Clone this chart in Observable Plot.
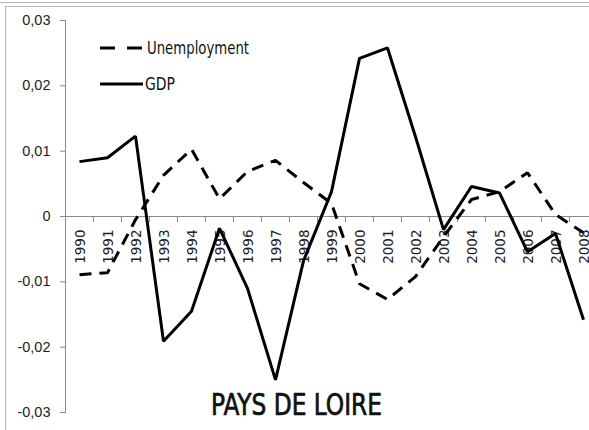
<!DOCTYPE html>
<html>
<head>
<meta charset="utf-8">
<script src="https://cdn.jsdelivr.net/npm/d3@7"></script>
<script src="https://cdn.jsdelivr.net/npm/@observablehq/plot@0.6"></script>
<style>
  html, body { margin: 0; padding: 0; background: #fff; overflow: hidden; }
  #wrap { position: relative; width: 589px; height: 430px; overflow: hidden; background: #fff; }
  #wrap svg.plotsvg { position: absolute; left: 0; top: 0; }
  .bline { position: absolute; background: #b4b4b4; }
  #legend { position: absolute; left: 0; top: 0; }
</style>
</head>
<body>
<div id="wrap"></div>
<script>
const years = ["1990","1991","1992","1993","1994","1995","1996","1997","1998","1999",
               "2000","2001","2002","2003","2004","2005","2006","2007","2008"];
const unemployment = [-0.0089, -0.0086, -0.0005, 0.0063, 0.0103, 0.0027, 0.0069, 0.0086, 0.0052, 0.0020,
                      -0.0103, -0.0127, -0.0092, -0.0031, 0.0026, 0.0038, 0.0067, 0.0003, -0.0025];
const gdp = [0.0084, 0.0090, 0.0123, -0.0191, -0.0145, -0.0018, -0.0110, -0.0250, -0.0068, 0.0038,
             0.0242, 0.0258, 0.0122, -0.0020, 0.0046, 0.0036, -0.0054, -0.0026, -0.0158];
const yTicks = [-0.03, -0.02, -0.01, 0, 0.01, 0.02, 0.03];
const yTickLabels = ["-0,03", "-0,02", "-0,01", "0", "0,01", "0,02", "0,03"];
const title = "PAYS DE LOIRE";
const seriesNames = ["Unemployment", "GDP"];

const uData = years.map((y, i) => ({year: y, value: unemployment[i]}));
const gData = years.map((y, i) => ({year: y, value: gdp[i]}));

const W = 589, H = 430;
const xRange = [65, 597];
const yRange = [412, 20];
const step = (xRange[1] - xRange[0]) / years.length;
const pxPerUnit = (yRange[0] - yRange[1]) / (yTicks[yTicks.length - 1] - yTicks[0]);
const tickLen = 6 / pxPerUnit;
const axisGray = "#8a8a8a";
const narrow = "'Liberation Sans Narrow', 'DejaVu Sans Condensed', 'Arial Narrow', sans-serif";

const chart = Plot.plot({
  width: W,
  height: H,
  marginLeft: 65,
  marginRight: 0,
  marginTop: 20,
  marginBottom: 18,
  style: {fontFamily: "'Liberation Sans', Arial, sans-serif", fontSize: "14.5px", color: "#222", background: "transparent"},
  x: {type: "point", domain: years, range: xRange, padding: 0.5, axis: null},
  y: {domain: [yTicks[0], yTicks[yTicks.length - 1]], range: yRange, axis: null},
  marks: [
    Plot.frame({anchor: "left", stroke: axisGray}),
    Plot.ruleY([0], {stroke: axisGray}),
    Plot.ruleX(years, {x: d => d, y1: 0, y2: -tickLen, dx: -step / 2, stroke: axisGray}),
    Plot.axisY({
      ticks: yTicks,
      tickFormat: d => yTickLabels[yTicks.indexOf(d)],
      tickSize: 5,
      tickPadding: 10,
      label: null,
      stroke: axisGray,
      fill: "#222",
      fontSize: 14.5
    }),
    Plot.text(years, {
      x: d => d, y: () => 0, text: d => d,
      rotate: -90, textAnchor: "end", dy: 13, dx: 1,
      fontFamily: "'DejaVu Sans', sans-serif", fontSize: 13.5, fill: "#222"
    }),
    Plot.line(uData, {
      x: "year", y: "value", stroke: "#000", strokeWidth: 3,
      strokeDasharray: "12,8", strokeLinejoin: "miter", strokeLinecap: "butt"
    }),
    Plot.line(gData, {
      x: "year", y: "value", stroke: "#000", strokeWidth: 3,
      strokeLinejoin: "miter", strokeLinecap: "butt"
    }),
    Plot.text([title], {
      frameAnchor: "bottom", text: d => d, dx: -31, dy: 2,
      fontFamily: narrow, fontSize: 30, fill: "#111", stroke: "#111", strokeWidth: 0.7
    })
  ]
});
chart.classList.add("plotsvg");
const wrap = document.getElementById("wrap");
wrap.appendChild(chart);
// squeeze the title to the reference's narrow letterforms
chart.querySelectorAll("text").forEach(t => {
  if (t.textContent === title) {
    t.setAttribute("textLength", "171");
    t.setAttribute("lengthAdjust", "spacingAndGlyphs");
  }
});

// legend (inside the plot area, top-left)
const ns = "http://www.w3.org/2000/svg";
const leg = document.createElementNS(ns, "svg");
leg.setAttribute("id", "legend");
leg.setAttribute("width", "300");
leg.setAttribute("height", "110");
const entries = [
  {name: seriesNames[0], y: 48, dash: "15,12", x2: 142, tx: 147, ty: 54, len: 102},
  {name: seriesNames[1], y: 84, dash: null, x2: 143, tx: 145, ty: 90, len: 30}
];
for (const e of entries) {
  const l = document.createElementNS(ns, "line");
  l.setAttribute("x1", 100); l.setAttribute("x2", e.x2);
  l.setAttribute("y1", e.y); l.setAttribute("y2", e.y);
  l.setAttribute("stroke", "#000"); l.setAttribute("stroke-width", 3);
  if (e.dash) l.setAttribute("stroke-dasharray", e.dash);
  leg.appendChild(l);
  const t = document.createElementNS(ns, "text");
  t.setAttribute("x", e.tx); t.setAttribute("y", e.ty);
  t.setAttribute("font-family", narrow);
  t.setAttribute("font-size", "17");
  t.setAttribute("fill", "#111");
  t.setAttribute("textLength", e.len);
  t.setAttribute("lengthAdjust", "spacingAndGlyphs");
  t.textContent = e.name;
  leg.appendChild(t);
}
wrap.appendChild(leg);

// outer chart border lines
function bl(left, top, w, h) {
  const d = document.createElement("div");
  d.className = "bline";
  d.style.left = left + "px"; d.style.top = top + "px";
  d.style.width = w + "px"; d.style.height = h + "px";
  wrap.appendChild(d);
}
bl(0, 2, W, 1);
bl(5, 6, W - 5, 1);
bl(5, 6, 1, H - 6);
</script>
</body>
</html>
